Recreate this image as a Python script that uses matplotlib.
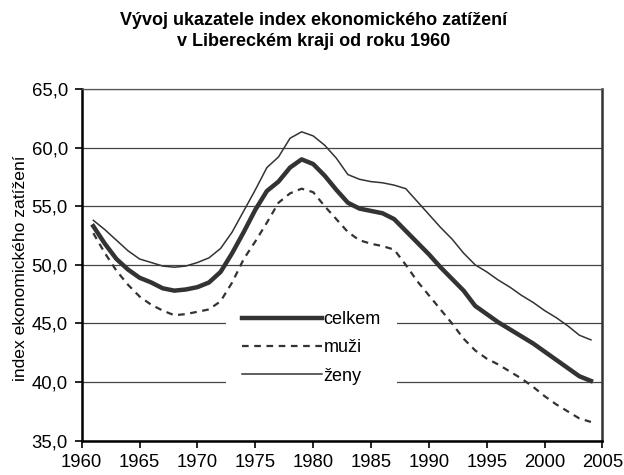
import numpy as np
import matplotlib.pyplot as plt
from matplotlib.ticker import FuncFormatter

plt.rcParams['font.family'] = ['Liberation Sans', 'DejaVu Sans']

years = list(range(1961, 2005))

celkem = [53.3, 51.8, 50.5, 49.6, 48.9, 48.5, 48.0, 47.8, 47.9, 48.1,
          48.5, 49.4, 51.0, 52.8, 54.7, 56.3, 57.1, 58.3, 59.0, 58.6,
          57.6, 56.4, 55.3, 54.8, 54.6, 54.4, 53.9, 52.9, 51.9, 50.9,
          49.8, 48.8, 47.8, 46.5, 45.8, 45.1, 44.5, 43.9, 43.3, 42.6,
          41.9, 41.2, 40.5, 40.1]

muzi = [52.7, 51.0, 49.5, 48.3, 47.3, 46.6, 46.1, 45.7, 45.8, 46.0,
        46.2, 46.9, 48.5, 50.5, 52.0, 53.6, 55.3, 56.1, 56.5, 56.2,
        55.0, 53.9, 52.8, 52.1, 51.8, 51.6, 51.3, 50.0, 48.6, 47.4,
        46.2, 45.0, 43.7, 42.7, 42.0, 41.5, 40.9, 40.3, 39.6, 38.8,
        38.1, 37.5, 36.9, 36.6]

zeny = [53.8, 53.0, 52.1, 51.2, 50.5, 50.2, 49.9, 49.8, 49.9, 50.2,
        50.6, 51.4, 52.8, 54.6, 56.4, 58.3, 59.2, 60.8, 61.35, 61.0,
        60.2, 59.1, 57.7, 57.3, 57.1, 57.0, 56.8, 56.5, 55.4, 54.3,
        53.2, 52.2, 51.0, 50.0, 49.4, 48.7, 48.1, 47.4, 46.8, 46.1,
        45.5, 44.8, 44.0, 43.6]

labels = ['celkem', 'muži', 'ženy']
title = 'Vývoj ukazatele index ekonomického zatížení\nv Libereckém kraji od roku 1960'
ylabel = 'index ekonomického zatížení'

line_col = '#333333'

fig = plt.figure(figsize=(6.24, 4.75), dpi=100)
ax = fig.add_axes([0.131, 0.0722, 0.8345, 0.7404])

ax.plot(years, celkem, color=line_col, lw=3.2, label=labels[0],
        solid_joinstyle='round', zorder=3)
ax.plot(years, muzi, color=line_col, lw=1.6, dashes=(3, 2.5), label=labels[1], zorder=3)
ax.plot(years, zeny, color=line_col, lw=1.1, label=labels[2],
        solid_joinstyle='round', zorder=3)

ax.set_xlim(1960, 2005)
ax.set_ylim(35, 65)
ax.set_xticks(range(1960, 2006, 5))
ax.set_yticks(range(35, 66, 5))
ax.yaxis.set_major_formatter(FuncFormatter(lambda v, p: f'{v:.1f}'.replace('.', ',')))
ax.tick_params(axis='both', direction='out', length=5, width=1.2, labelsize=13.3, color='black')
ax.tick_params(axis='x', pad=4.5)
ax.tick_params(axis='y', pad=5)

ax.grid(axis='y', color='#444444', lw=0.9, zorder=1)
ax.set_axisbelow(True)

for side in ['left', 'bottom']:
    ax.spines[side].set_linewidth(1.8)
    ax.spines[side].set_color('black')
ax.spines['right'].set_linewidth(1.8)
ax.spines['right'].set_color('#333333')
ax.spines['top'].set_linewidth(0.9)
ax.spines['top'].set_color('#555555')

ax.set_ylabel(ylabel, fontsize=12.6)
ax.yaxis.set_label_coords(-0.104, 0.49)

leg = ax.legend(loc='center', bbox_to_anchor=(0.441, 0.264), frameon=True,
                facecolor='white', edgecolor='none', framealpha=1, fancybox=False,
                fontsize=13, handlelength=4.4, handletextpad=0.1,
                labelspacing=0.62, borderpad=0.9)
leg.set_zorder(5)

fig.text(0.502, 1 - 31 / 475, title, ha='center', va='center',
         fontsize=13, fontweight='bold', linespacing=1.25)

fig.savefig('out.png', dpi=100)
